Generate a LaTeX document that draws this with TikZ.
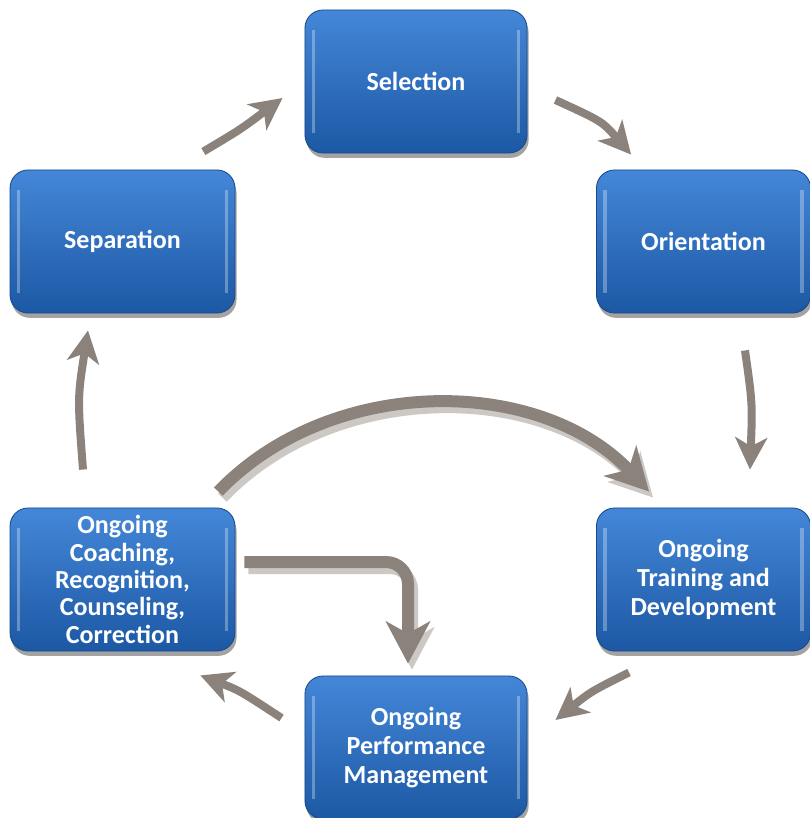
\documentclass[tikz,border=0pt]{standalone}
\usepackage{fontspec}
\setmainfont{Carlito}
\usetikzlibrary{arrows.meta,shadows,calc}

\definecolor{boxtop}{HTML}{4487D8}
\definecolor{boxbot}{HTML}{1C58A4}
\definecolor{boxrim}{HTML}{17498A}
\definecolor{arrowgray}{HTML}{8B837B}
\definecolor{arrowshade}{HTML}{CCC8C4}

\tikzset{
  stage/.style={rectangle, rounded corners=0.45cm, minimum width=5.55cm, minimum height=3.575cm,
    top color=boxtop, bottom color=boxbot, draw=boxrim, line width=0.6pt,
    drop shadow={shadow xshift=0.4mm, shadow yshift=-1.2mm, opacity=0.45, fill=black!80},
    text=white, align=center, font=\fontsize{18.5}{20.6}\selectfont\bfseries,
    path picture={
      \draw[white, opacity=0.3, line width=2.5pt]
        ([shift={(6pt,-14pt)}]path picture bounding box.north west) --
        ([shift={(6pt,14pt)}]path picture bounding box.south west)
        ([shift={(-6pt,-14pt)}]path picture bounding box.north east) --
        ([shift={(-6pt,14pt)}]path picture bounding box.south east);}},
  flow/.style={draw=arrowgray, line width=0.2cm,
    -{Stealth[length=0.8cm, width=0.8cm, inset=0.22cm]}},
  bigflow/.style={draw=arrowgray, line width=0.3cm,
    -{Stealth[length=1.05cm, width=1.1cm, inset=0.3cm]}},
  bigshade/.style={draw=arrowshade, line width=0.3cm,
    -{Stealth[length=1.05cm, width=1.1cm, inset=0.3cm]}}
}

\begin{document}
\begin{tikzpicture}[x=0.025cm, y=-0.025cm]
  \useasboundingbox (0,0) rectangle (810,818);

  % the six stages
  \node[stage] (sel) at (416,81.5) {Selection};
  \node[stage, minimum width=5.35cm] (ori) at (703.5,241.5) {Orientation};
  \node[stage, minimum width=5.62cm] (sep) at (122.5,241.5) {Separation};
  \node[stage, minimum width=5.35cm] (trn) at (703.5,579.5) {Ongoing\\Training and\\Development};
  \node[stage] (perf) at (416,747.5) {Ongoing\\Performance\\Management};
  \node[stage, minimum width=5.62cm, font=\fontsize{18.5}{19.5}\selectfont\bfseries] (coach) at (122.5,579.5)
    {Ongoing\\Coaching,\\Recognition,\\Counseling,\\Correction};

  % cycle arrows
  \draw[flow] ([shift={(-32,-18)}]sep.north east) .. controls ([shift={(5,-40)}]sep.north east) .. ([shift={(-22,16.5)}]sel.west);
  \draw[flow] ([shift={(28,18.5)}]sel.east) .. controls ([shift={(75,40)}]sel.east) .. ([shift={(35,-15)}]ori.north west);
  \draw[flow] ([shift={(41.5,37)}]ori.south) .. controls ([shift={(49,90)}]ori.south) .. ([shift={(46.5,-38)}]trn.north);
  \draw[flow] ([shift={(33,21)}]trn.south west) .. controls ([shift={(-5,40)}]trn.south west) .. ([shift={(28,-27.5)}]perf.east);
  \draw[flow] ([shift={(-23,-29.5)}]perf.west) .. controls ([shift={(-65,-57)}]perf.west) .. ([shift={(-35,24)}]coach.south east);
  \draw[flow] ([shift={(-39.5,-38)}]coach.north) .. controls ([shift={(-45,-110)}]coach.north) .. ([shift={(-34.5,17)}]sep.south);

  % shortcut arrows with their shadows
  \draw[bigshade] ([shift={(-13,-10)}]coach.north east) .. controls ([shift={(99,-127)}]coach.north east) and ([shift={(-53,-127)}]trn.north west) .. ([shift={(57,-10)}]trn.north west);
  \draw[bigflow] ([shift={(-17,-16)}]coach.north east) .. controls ([shift={(95,-133)}]coach.north east) and ([shift={(-57,-133)}]trn.north west) .. ([shift={(53,-16)}]trn.north west);

  \draw[bigshade, rounded corners=0.55cm] ([shift={(13,-11.5)}]coach.east) -| ([shift={(-4,-6)}]perf.north);
  \draw[bigflow, rounded corners=0.55cm] ([shift={(9,-17.5)}]coach.east) -| ([shift={(-8,-12)}]perf.north);
\end{tikzpicture}
\end{document}
